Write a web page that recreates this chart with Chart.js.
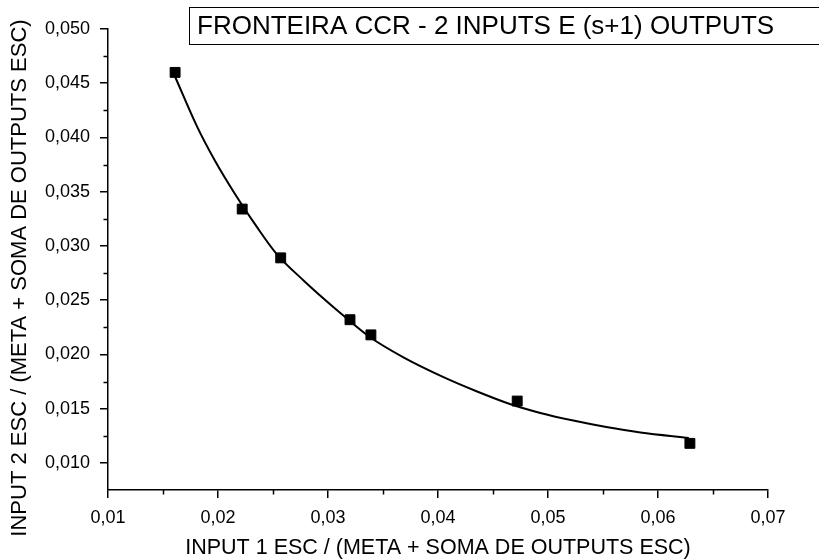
<!DOCTYPE html>
<html>
<head>
<meta charset="utf-8">
<script src="https://cdn.jsdelivr.net/npm/chart.js@4/dist/chart.umd.min.js"></script>
<style>
html,body{margin:0;padding:0;background:#fff;}
#wrap{width:819px;height:560px;}
</style>
</head>
<body>
<div id="wrap"><canvas id="c" width="819" height="560"></canvas></div>
<script>
// ---- data ----
const titleText = "FRONTEIRA CCR - 2 INPUTS E (s+1) OUTPUTS";
const xTitle = "INPUT 1 ESC / (META + SOMA DE OUTPUTS ESC)";
const yTitle = "INPUT 2 ESC / (META + SOMA DE OUTPUTS ESC)";

const pointsX = [0.0161, 0.0222, 0.0257, 0.0320, 0.0339, 0.0472, 0.0629];
const pointsY = [0.0460, 0.0334, 0.0289, 0.0232, 0.0218, 0.0157, 0.0118];

const curveX = [0.0161, 0.0181, 0.0197, 0.0216, 0.0235, 0.0253, 0.0278, 0.0308, 0.0338, 0.0369, 0.0405, 0.0435, 0.0466, 0.0493, 0.0523, 0.0553, 0.0584, 0.0628];
const curveY = [0.0456, 0.0410, 0.0379, 0.0347, 0.0318, 0.0293, 0.0268, 0.0241, 0.0216, 0.0197, 0.0179, 0.0166, 0.0154, 0.0146, 0.0139, 0.0133, 0.0128, 0.0123];

const xMajorTicks = [0.01, 0.02, 0.03, 0.04, 0.05, 0.06, 0.07];
const xMinorTicks = [0.015, 0.025, 0.035, 0.045, 0.055, 0.065];
const yMajorTicks = [0.010, 0.015, 0.020, 0.025, 0.030, 0.035, 0.040, 0.045, 0.050];
const yMinorTicks = [0.0125, 0.0175, 0.0225, 0.0275, 0.0325, 0.0375, 0.0425, 0.0475];
const xRange = [0.01, 0.07];
const yRange = [0.0075, 0.050];

const FONT = "'Liberation Sans', Arial, sans-serif";

const decoPlugin = {
  id: 'deco',
  afterDraw(chart) {
    const ctx = chart.ctx;
    const xs = chart.scales.x, ys = chart.scales.y;
    ctx.save();
    ctx.strokeStyle = '#000';
    ctx.lineWidth = 1.5;
    // minor ticks
    ctx.beginPath();
    yMinorTicks.forEach(v => {
      const p = Math.round(ys.getPixelForValue(v)) + 0.5;
      ctx.moveTo(chart.chartArea.left, p);
      ctx.lineTo(chart.chartArea.left - 4.5, p);
    });
    xMinorTicks.forEach(v => {
      const p = Math.round(xs.getPixelForValue(v)) + 0.5;
      ctx.moveTo(p, chart.chartArea.bottom);
      ctx.lineTo(p, chart.chartArea.bottom + 4.5);
    });
    ctx.stroke();
    // title box
    ctx.lineWidth = 1;
    ctx.strokeRect(189.5, 7.5, 700, 37);
    ctx.fillStyle = '#000';
    ctx.font = "26px " + FONT;
    ctx.textBaseline = 'middle';
    ctx.textAlign = 'left';
    ctx.fillText(titleText, 197, 27);
    // y axis title
    ctx.translate(20, 278);
    ctx.rotate(-Math.PI / 2);
    ctx.textAlign = 'center';
    ctx.font = "22px " + FONT;
    ctx.fillText(yTitle, 0, 0);
    ctx.restore();
  }
};

const fmt = (v, d) => v.toFixed(d).replace('.', ',');

new Chart(document.getElementById('c'), {
  type: 'scatter',
  data: {
    datasets: [
      {
        label: 'pontos',
        data: pointsX.map((x, i) => ({x, y: pointsY[i]})),
        pointStyle: 'rect',
        pointRadius: 7,
        pointBackgroundColor: '#000',
        pointBorderColor: '#000',
        pointBorderWidth: 1,
        showLine: false,
        order: 0
      },
      {
        label: 'ajuste',
        data: curveX.map((x, i) => ({x, y: curveY[i]})),
        showLine: true,
        borderColor: '#000',
        borderWidth: 2,
        pointRadius: 0,
        cubicInterpolationMode: 'monotone',
        fill: false,
        order: 1
      }
    ]
  },
  options: {
    responsive: false,
    animation: false,
    devicePixelRatio: 1,
    layout: { padding: { top: 29, right: 51, left: 0, bottom: 0 } },
    plugins: { legend: { display: false }, tooltip: { enabled: false }, title: { display: false } },
    scales: {
      x: {
        type: 'linear',
        min: xRange[0], max: xRange[1],
        afterBuildTicks: s => { s.ticks = xMajorTicks.map(v => ({value: v})); },
        afterFit: s => { s.height = 70; },
        ticks: {
          color: '#000',
          font: { family: FONT, size: 18 },
          padding: 9,
          maxRotation: 0,
          autoSkip: false,
          callback: v => fmt(v, 2)
        },
        grid: { drawOnChartArea: false, drawTicks: true, tickLength: 8, color: '#000', lineWidth: 1.5 },
        border: { display: true, color: '#000', width: 1.5 },
        title: {
          display: true, text: xTitle, color: '#000',
          font: { family: FONT, size: 21.5 },
          padding: { top: 0, bottom: -1 }
        }
      },
      y: {
        type: 'linear',
        min: yRange[0], max: yRange[1],
        afterBuildTicks: s => { s.ticks = yMajorTicks.map(v => ({value: v})); },
        afterFit: s => { s.width = 108; },
        ticks: {
          color: '#000',
          font: { family: FONT, size: 18 },
          padding: 10,
          autoSkip: false,
          callback: v => fmt(v, 3)
        },
        grid: { drawOnChartArea: false, drawTicks: true, tickLength: 8, color: '#000', lineWidth: 1.5 },
        border: { display: true, color: '#000', width: 1.5 }
      }
    }
  },
  plugins: [decoPlugin]
});
</script>
</body>
</html>
